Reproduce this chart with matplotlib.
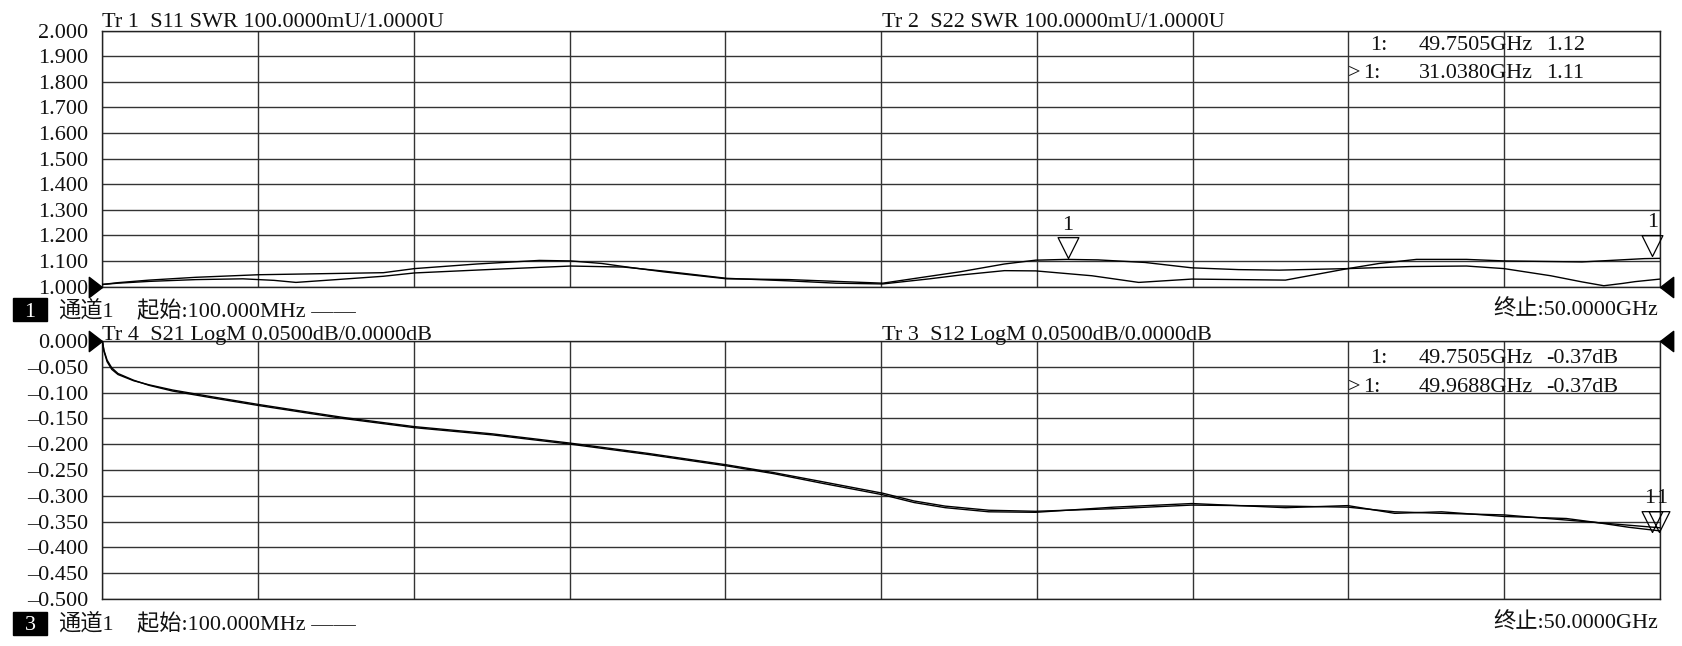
import numpy as np
import matplotlib
matplotlib.use("Agg")
import matplotlib.pyplot as plt
from matplotlib.patches import Rectangle

plt.rcParams['font.family'] = ['Liberation Serif', 'Noto Sans CJK SC']

W, H = 1683, 646

# sweep 100 MHz .. 50 GHz
f_start = 0.1
f_stop = 50.0

# ---- upper window: SWR traces (GHz, SWR) ----
s11_freq = [0.1, 0.6, 1.6, 3.1, 4.6, 5.6, 6.3, 7.6, 9.1, 10.1, 12.6, 15.1, 16.8, 18.1, 20.1,
            22.1, 23.6, 25.1, 26.6, 27.6, 29.0, 30.0, 31.8, 33.3, 35.0, 36.5, 38.0, 40.0,
            41.0, 42.2, 43.8, 45.0, 47.5, 49.5, 50.0]
s11_swr = [1.008, 1.013, 1.020, 1.027, 1.030, 1.024, 1.016, 1.027, 1.040, 1.053, 1.067, 1.080,
           1.076, 1.060, 1.032, 1.022, 1.013, 1.010, 1.030, 1.045, 1.062, 1.061, 1.042, 1.016,
           1.029, 1.027, 1.025, 1.070, 1.090, 1.106, 1.106, 1.100, 1.096, 1.109, 1.110]

s22_freq = [0.1, 0.6, 1.6, 3.1, 5.1, 7.1, 9.1, 10.1, 12.1, 14.1, 15.1, 16.1, 16.8, 18.1, 20.1,
            22.1, 23.6, 25.1, 26.6, 27.6, 29.0, 30.0, 31.0, 32.0, 33.5, 35.0, 36.5, 37.8,
            40.0, 42.0, 43.8, 45.0, 46.5, 47.5, 48.2, 48.8, 49.2, 50.0]
s22_swr = [1.008, 1.015, 1.025, 1.036, 1.046, 1.050, 1.054, 1.070, 1.088, 1.102, 1.100, 1.090,
           1.078, 1.057, 1.030, 1.027, 1.020, 1.013, 1.040, 1.058, 1.088, 1.103, 1.106, 1.104,
           1.094, 1.073, 1.066, 1.064, 1.070, 1.078, 1.080, 1.070, 1.042, 1.018, 1.003, 1.012,
           1.019, 1.029]

# ---- lower window: LogM traces (GHz, dB) ----
s21_freq = [0.1, 0.15, 0.25, 0.4, 0.6, 1.1, 1.6, 2.35, 3.6, 5.1, 6.6, 7.8, 10.1, 12.6, 15.1,
            17.6, 20.1, 21.6, 23.1, 25.1, 26.1, 27.1, 28.5, 30.0, 32.5, 35.0, 38.0, 40.0,
            41.5, 43.0, 45.0, 47.0, 49.0, 50.0]
s21_db = [0.000, -0.020, -0.040, -0.055, -0.065, -0.077, -0.085, -0.095, -0.108, -0.123,
          -0.137, -0.148, -0.166, -0.180, -0.198, -0.218, -0.240, -0.255, -0.272, -0.295,
          -0.310, -0.320, -0.328, -0.330, -0.325, -0.318, -0.320, -0.322, -0.331, -0.334,
          -0.337, -0.347, -0.357, -0.362]

s12_freq = [0.1, 0.15, 0.25, 0.4, 0.6, 1.1, 1.6, 2.35, 3.6, 5.1, 6.6, 7.8, 10.1, 12.6, 15.1,
            17.6, 20.1, 21.6, 23.1, 25.1, 26.1, 27.1, 28.5, 30.0, 32.5, 35.0, 38.0, 40.0,
            41.5, 43.0, 45.0, 47.0, 48.0, 49.0, 50.0]
s12_db = [0.000, -0.018, -0.037, -0.052, -0.063, -0.076, -0.086, -0.097, -0.110, -0.125,
          -0.139, -0.150, -0.168, -0.182, -0.200, -0.220, -0.242, -0.257, -0.275, -0.298,
          -0.313, -0.323, -0.331, -0.332, -0.322, -0.315, -0.323, -0.319, -0.334, -0.331,
          -0.340, -0.344, -0.352, -0.361, -0.368]

# markers
up_mk_freq = [49.7505, 31.0380]
up_mk_val = [1.12, 1.11]
lo_mk_freq = [49.7505, 49.9688]
lo_mk_val = [-0.37, -0.37]

up_ticks = np.arange(1.0, 2.0001, 0.1)
lo_ticks = np.arange(-0.5, 0.0001, 0.05)

fig = plt.figure(figsize=(W / 100, H / 100), dpi=100)
fig.patch.set_facecolor('white')

ax1 = fig.add_axes([102.4 / W, 1 - 286.5 / H, 1557.6 / W, 255.8 / H])
ax2 = fig.add_axes([102.4 / W, 1 - 599.0 / H, 1557.6 / W, 258.0 / H])

txt = '#111111'


def setup(ax, ylim, ticks):
    ax.set_xlim(f_start, f_stop)
    ax.set_ylim(*ylim)
    ax.set_xticks(np.linspace(f_start, f_stop, 11))
    ax.set_yticks(ticks)
    if ylim[0] < 0:
        labels = ["0.000" if abs(v) < 1e-9 else f"{v:.3f}".replace('-', '–') for v in ticks]
    else:
        labels = [f"{v:.3f}" for v in ticks]
    ax.set_yticklabels(labels)
    ax.tick_params(length=0, labelbottom=False, pad=10.4, labelsize=16, labelcolor=txt)
    ax.grid(True, color='#333333', lw=1.0)
    for s in ax.spines.values():
        s.set_color('#222222')
        s.set_linewidth(1.0)


setup(ax1, (1.0, 2.0), up_ticks)
setup(ax2, (-0.5, 0.0), lo_ticks)

ax1.plot(s11_freq, s11_swr, color='black', lw=1.0, zorder=3)
ax1.plot(s22_freq, s22_swr, color='black', lw=1.0, zorder=3)
ax2.plot(s21_freq, s21_db, color='black', lw=1.0, zorder=3)
ax2.plot(s12_freq, s12_db, color='black', lw=1.0, zorder=3)

# reference level triangles
left_tri = [(0, 0), (-1.3, 1), (-1.3, -1), (0, 0)]
right_tri = [(0, 0), (1.3, 1), (1.3, -1), (0, 0)]
for ax, ref in ((ax1, 1.0), (ax2, 0.0)):
    ax.plot([f_start], [ref], marker=left_tri, ms=19, color='black', clip_on=False, zorder=5)
    ax.plot([f_stop], [ref], marker=right_tri, ms=19, color='black', clip_on=False, zorder=5)

# trace markers
mk_tri = [(0, 0), (-0.5, 1), (0.5, 1), (0, 0)]
for ax, fs, vs in ((ax1, up_mk_freq, up_mk_val), (ax2, lo_mk_freq, lo_mk_val)):
    for f, v in zip(fs, vs):
        ax.plot([f], [v], marker=mk_tri, ms=30, mfc='none', mec='black', mew=0.9,
                clip_on=False, zorder=6)

for f, v in zip(up_mk_freq, up_mk_val):
    ax1.annotate('1', (f, v), xytext=(0, 24), textcoords='offset points',
                 ha='center', va='center', fontsize=16, color=txt, annotation_clip=False)
# the two lower markers sit almost on top of each other -> "11"
for (f, v), ha, dx in zip(zip(lo_mk_freq, lo_mk_val), ('right', 'left'), (2, -2)):
    ax2.annotate('1', (f, v), xytext=(dx, 24), textcoords='offset points',
                 ha=ha, va='center', fontsize=16, color=txt, annotation_clip=False)


def label(x, y, s, **kw):
    kw.setdefault('fontsize', 16)
    kw.setdefault('color', txt)
    fig.text(x / W, 1 - y / H, s, **kw)


# trace titles
label(102, 27, 'Tr 1  S11 SWR 100.0000mU/1.0000U', va='baseline')
label(882, 27, 'Tr 2  S22 SWR 100.0000mU/1.0000U', va='baseline')
label(102, 340, 'Tr 4  S21 LogM 0.0500dB/0.0000dB', va='baseline')
label(882, 340, 'Tr 3  S12 LogM 0.0500dB/0.0000dB', va='baseline')

# marker tables
rows = [
    (50, '', '49.7505GHz', '1.12'),
    (78, '>', '31.0380GHz', '1.11'),
    (363, '', '49.7505GHz', '-0.37dB'),
    (392, '>', '49.9688GHz', '-0.37dB'),
]
for y, act, freq, val in rows:
    if act:
        label(1348, y, act, va='baseline')
        label(1363, y, '1:', va='baseline')
    else:
        label(1370, y, '1:', va='baseline')
    label(1533, y, freq, ha='right', va='baseline')
    label(1546, y, val, va='baseline')

# channel bars
for num, top, base in (('1', 298, 317), ('3', 612, 630)):
    fig.add_artist(Rectangle((13 / W, 1 - (top + 23) / H), 34 / W, 23 / H,
                             transform=fig.transFigure, color='black'))
    label(30, base, num, ha='center', va='baseline', color='white')
    label(58, base, '通道1', va='baseline')
    label(137, base, '起始:100.000MHz ——', va='baseline')
    label(1658, base - 2, '终止:50.0000GHz', ha='right', va='baseline')

fig.savefig('out.png', dpi=100)
